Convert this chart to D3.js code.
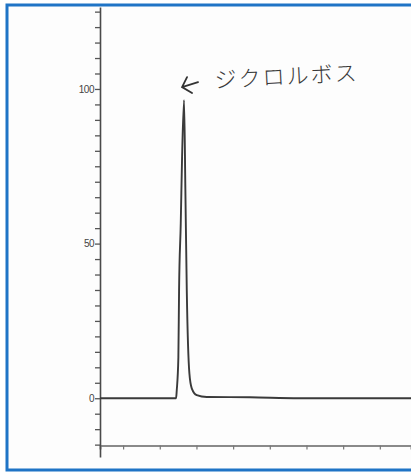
<!DOCTYPE html>
<html>
<head>
<meta charset="utf-8">
<script src="https://d3js.org/d3.v7.min.js"></script>
<style>
  body { margin: 0; background: #fff; }
  svg { display: block; }
</style>
</head>
<body>
<div id="chart"></div>
<script>
// chromatogram trace (retention time, response %)
const times = [0.37, 2.444, 2.463, 2.507, 2.526, 2.572, 2.608, 2.662, 2.698, 2.736, 2.807, 2.872, 3.008, 3.281, 4.46, 5.8, 8.85];
const responses = [0, 0, 2.6, 13.3, 35.0, 56.6, 78.0, 96.4, 67.3, 35.0, 8.1, 3.2, 1.0, 0.4, 0.3, 0, 0];

// axis ticks
const yTicks = d3.range(-15, 126, 5);
const yLabels = [0, 50, 100];
const xTicks = [1, 2, 3, 4, 5, 6, 7, 8];

// peak annotation
const peakName = "ジクロルボス";
const peakTime = 2.662;
const peakValue = 96.4;

const width = 411, height = 472;

const svg = d3.select("#chart")
  .append("svg")
  .attr("width", width)
  .attr("height", height);

// blue frame, open on the right side
svg.append("path")
  .attr("d", "M420,5 H7 V470 H420")
  .attr("fill", "#fdfdfd")
  .attr("stroke", "#1f74c6")
  .attr("stroke-width", 3);

const x = d3.scaleLinear()
  .domain([0.37, 8.85])
  .range([100, 411]);

const y = d3.scaleLinear()
  .domain([-19, 126.5])
  .range([457, 7]);

// x axis (no labels), sits just under the -15 tick
const xAxis = svg.append("g")
  .attr("transform", `translate(0,${y(-15.3)})`)
  .call(d3.axisBottom(x).tickValues(xTicks).tickSize(4).tickFormat(""));
xAxis.select(".domain")
  .attr("stroke", "#8a8a8a")
  .attr("stroke-width", 2);
xAxis.selectAll(".tick line")
  .attr("stroke", "#777")
  .attr("stroke-width", 1.2);

// y axis
const yAxis = svg.append("g")
  .attr("transform", `translate(${x(0.37)},0)`)
  .call(d3.axisLeft(y)
    .tickValues(yTicks)
    .tickSize(5)
    .tickSizeOuter(0)
    .tickFormat(d => yLabels.includes(d) ? d : ""));
yAxis.select(".domain")
  .attr("stroke", "#4a4a4a")
  .attr("stroke-width", 1.6);
yAxis.selectAll(".tick line")
  .attr("stroke", "#555")
  .attr("stroke-width", 1.3);
yAxis.selectAll(".tick text")
  .attr("x", -6)
  .attr("font-family", "Liberation Sans, Arial, sans-serif")
  .attr("font-size", "10px")
  .attr("letter-spacing", "-0.5px")
  .attr("fill", "#444");

// trace
const line = d3.line()
  .x((_, i) => x(times[i]))
  .y(d => y(d))
  .curve(d3.curveMonotoneX);

svg.append("path")
  .datum(responses)
  .attr("d", line)
  .attr("fill", "none")
  .attr("stroke", "#3a3a3a")
  .attr("stroke-width", 1.9)
  .attr("stroke-linejoin", "round");

// hand-drawn arrow pointing at the peak
const tipX = x(peakTime) - 2, tipY = y(peakValue) - 13;
svg.append("path")
  .attr("d", `M${tipX + 16},${tipY - 5} L${tipX},${tipY} M${tipX + 5},${tipY - 10} L${tipX},${tipY} L${tipX + 10},${tipY + 6}`)
  .attr("fill", "none")
  .attr("stroke", "#333")
  .attr("stroke-width", 1.8)
  .attr("stroke-linecap", "round");

svg.append("text")
  .attr("x", tipX + 33)
  .attr("y", tipY + 1)
  .attr("transform", `rotate(-3,${tipX + 33},${tipY + 1})`)
  .attr("font-family", "Noto Sans CJK JP, sans-serif")
  .attr("font-size", "22px")
  .attr("font-weight", 300)
  .attr("letter-spacing", "2px")
  .attr("fill", "#3a3a3a")
  .text(peakName);
</script>
</body>
</html>
